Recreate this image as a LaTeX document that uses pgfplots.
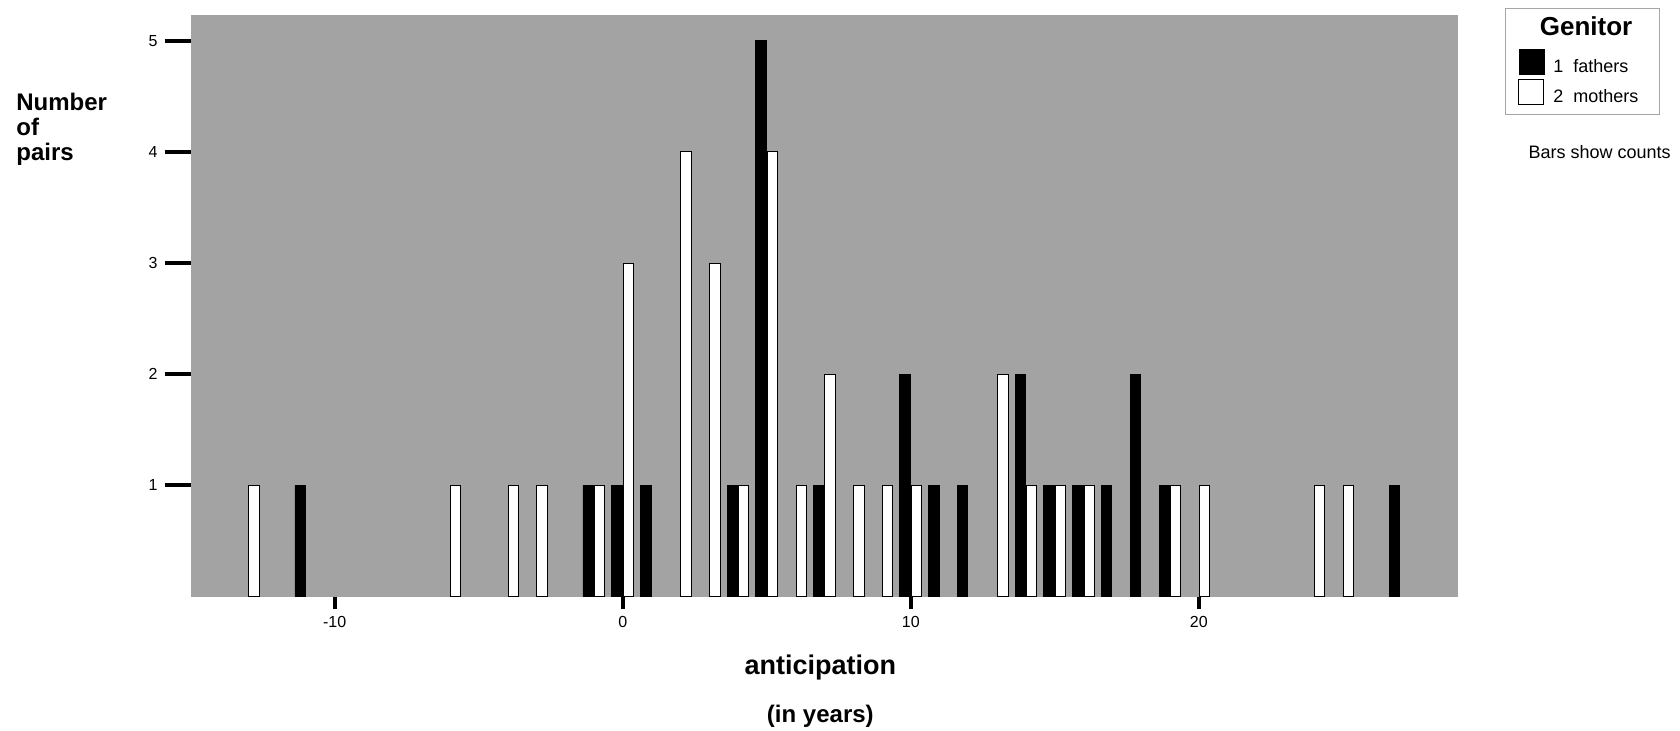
\documentclass[border=0pt]{standalone}
\usepackage{pgfplots}
\pgfplotsset{compat=1.18}
\usepackage{fontspec}
\setmainfont{Liberation Sans}

\definecolor{panel}{RGB}{163,163,163}

% counts per year of anticipation
\pgfplotstableread{
x  n
-11 1
-1  1
0   1
1   1
4   1
5   5
7   1
10  2
11  1
12  1
14  2
15  1
16  1
17  1
18  2
19  1
27  1
}\fathers
\pgfplotstableread{
x  n
-13 1
-6  1
-4  1
-3  1
-1  1
0   3
2   4
3   3
4   1
5   4
6   1
7   2
8   1
9   1
10  1
13  2
14  1
15  1
16  1
19  1
20  1
24  1
25  1
}\mothers

\pgfplotsset{
  swatch/.style={legend image code/.code={
      \draw[##1] (0pt,-3.5pt) rectangle (12.5pt,9pt);
      \path (17pt,0pt);}},
}

\begin{document}
\begin{tikzpicture}
\path[use as bounding box] (0,0) rectangle (840pt,365pt);
\begin{axis}[
    at={(95.35pt,66.65pt)}, anchor=south west,
    scale only axis,
    width=633.65pt, height=290.85pt,
    xmin=-15, xmax=29,
    ymin=0, ymax=5.23,
    axis background/.style={fill=panel},
    axis line style={draw=none},
    clip=false,
    tick pos=left,
    tick align=outside,
    major tick length=13pt,
    tick style={black, line width=2pt},
    xtick style={/pgfplots/major tick length=6pt},
    xtick={-10,0,10,20},
    ytick={1,2,3,4,5},
    /pgf/number format/assume math mode=true,
    ticklabel style={font=\fontsize{8}{9.6}\selectfont},
    xticklabel style={yshift=6.5pt},
    xlabel={{\fontsize{13.5}{16}\selectfont anticipation}\\[11.7pt]{\fontsize{12}{14}\selectfont (in years)}},
    xlabel style={at={(rel axis cs:0.5,0)}, anchor=north, yshift=-29pt, xshift=-2pt,
        align=center, font=\bfseries, inner sep=0pt},
    ylabel={Number\\of\\pairs},
    ylabel style={at={(rel axis cs:0,1)}, rotate=-90, anchor=north west,
        xshift=-87.35pt, yshift=-39pt, align=left, inner sep=0pt,
        font=\fontsize{12}{12.4}\selectfont\bfseries},
    legend style={at={(rel axis cs:1.0371,1.0127)}, anchor=north west,
        draw=gray!70, fill=white, inner xsep=6.5pt, inner ysep=4.4pt,
        row sep=2pt, font=\fontsize{9}{11}\selectfont,
        nodes={inner sep=0pt}},
    legend cell align=left,
]
\addlegendimage{empty legend}
\addlegendentry{\hspace*{-6.8pt}\raisebox{3pt}{\fontsize{13}{15}\selectfont\bfseries Genitor}}

\addplot[ybar, bar width=0.36, bar shift=-0.2, fill=black, draw=black, swatch]
    table[x=x, y=n] {\fathers};
\addlegendentry{1\ \ fathers}

\addplot[ybar, bar width=0.36, bar shift=0.2, fill=white, draw=black, line width=0.5pt, swatch]
    table[x=x, y=n] {\mothers};
\addlegendentry{2\ \ mothers\hspace*{4pt}}

\node[font=\fontsize{9}{11}\selectfont] at (rel axis cs:1.1118,0.765) {Bars show counts};
\end{axis}
\end{tikzpicture}
\end{document}
